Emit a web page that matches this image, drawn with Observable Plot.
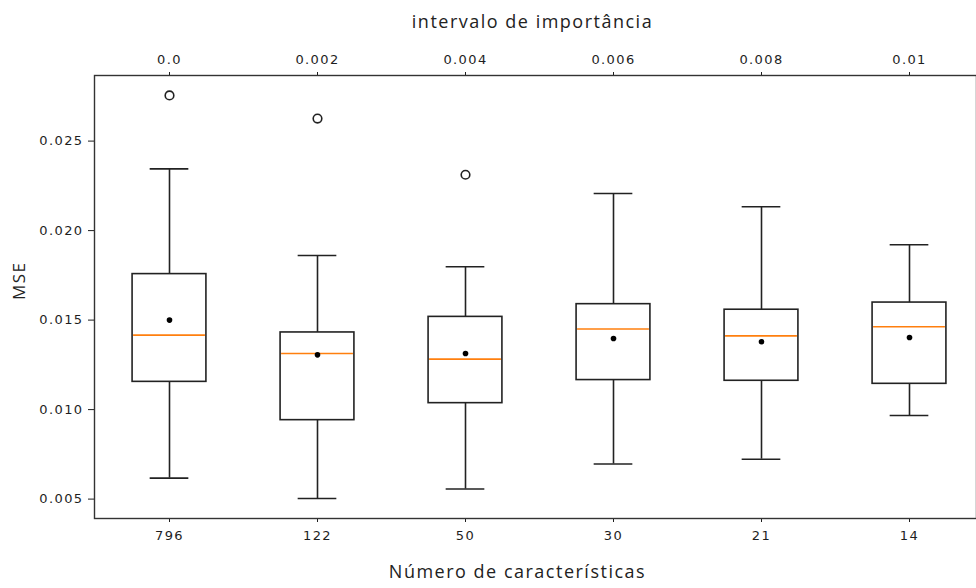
<!DOCTYPE html>
<html>
<head>
<meta charset="utf-8">
<script src="https://cdn.jsdelivr.net/npm/d3@7"></script>
<script src="https://cdn.jsdelivr.net/npm/@observablehq/plot@0.6"></script>
<style>
  html, body { margin: 0; padding: 0; background: #fff; }
  #chart svg { display: block; }
  #chart g[aria-label="x-axis tick label"] text,
  #chart g[aria-label="y-axis tick label"] text { letter-spacing: 1.4px; }
  #chart g[aria-label="text"] text { letter-spacing: 1.5px; }
</style>
</head>
<body>
<div id="chart"></div>
<script>
// Categories (bottom axis: number of features) and top axis (importance threshold)
const categories = ["796", "122", "50", "30", "21", "14"];
const importance = ["0.0", "0.002", "0.004", "0.006", "0.008", "0.01"];

// Box-plot statistics per category (MSE)
const whiskerLow  = [0.00617, 0.00503, 0.00556, 0.00696, 0.00723, 0.00967];
const q1          = [0.01155, 0.00941, 0.01036, 0.01165, 0.01161, 0.01144];
const medians     = [0.01416, 0.01313, 0.01282, 0.01450, 0.01412, 0.01463];
const q3          = [0.01757, 0.01431, 0.01518, 0.01589, 0.01558, 0.01598];
const whiskerHigh = [0.02345, 0.01861, 0.01798, 0.02207, 0.02133, 0.01921];
const means       = [0.01500, 0.01306, 0.01313, 0.01397, 0.01379, 0.01403];

// Outliers
const outlierCats   = ["796", "122", "50"];
const outlierValues = [0.02755, 0.02626, 0.02312];

const yTicks = [0.005, 0.010, 0.015, 0.020, 0.025];

// Axis titles
const xTitle = "Número de características";
const topTitle = "intervalo de importância";
const yTitle = "MSE";

const stats = categories.map((c, i) => ({
  cat: c, low: whiskerLow[i], q1: q1[i], med: medians[i], q3: q3[i], high: whiskerHigh[i], mean: means[i]
}));
const outliers = outlierCats.map((c, i) => ({cat: c, value: outlierValues[i]}));
const topLabel = new Map(categories.map((c, i) => [c, importance[i]]));

const bandW = (984 - 94) / categories.length;
const boxInset = bandW * 0.25;
const capInset = (bandW - 39) / 2;
const ink = "#222";
const titleFont = "Open Sans, Noto Sans, sans-serif";

const chart = Plot.plot({
  width: 976,
  height: 588,
  marginLeft: 94,
  marginRight: 0,
  marginTop: 75,
  marginBottom: 70,
  style: {fontFamily: "DejaVu Sans, sans-serif", fontSize: "13px", color: "#1e1e1e", background: "#fff"},
  x: {type: "band", domain: categories, range: [94, 984], padding: 0},
  y: {domain: [0.003916, 0.028665]},
  marks: [
    Plot.axisY({ticks: yTicks, tickFormat: d3.format(".3f"), tickSize: 6, tickPadding: 5, label: null, fontSize: 13}),
    Plot.axisX({anchor: "bottom", tickSize: 4, tickPadding: 8, label: null, fontSize: 13}),
    Plot.axisX({anchor: "top", tickSize: 4, tickPadding: 8, tickFormat: d => topLabel.get(d), label: null, fontSize: 13}),
    Plot.text([topTitle], {frameAnchor: "top", text: d => d, dy: -53, dx: -3, fontSize: 18,
      fontFamily: titleFont, fill: "#222", lineAnchor: "middle"}),
    Plot.text([xTitle], {frameAnchor: "bottom", text: d => d, dy: 54, dx: -18, fontSize: 18,
      fontFamily: titleFont, fill: "#222", lineAnchor: "middle"}),
    Plot.text([yTitle], {frameAnchor: "left", text: d => d, dx: -75, dy: 3, rotate: -90, fontSize: 17,
      fontFamily: titleFont, fill: "#222", lineAnchor: "middle"}),
    Plot.frame({stroke: "#333", strokeWidth: 1.4}),
    Plot.ruleX(stats, {x: "cat", y1: "low", y2: "q1", stroke: ink, strokeWidth: 1.6}),
    Plot.ruleX(stats, {x: "cat", y1: "q3", y2: "high", stroke: ink, strokeWidth: 1.6}),
    Plot.tickY(stats, {x: "cat", y: "low", stroke: ink, strokeWidth: 1.6, inset: capInset}),
    Plot.tickY(stats, {x: "cat", y: "high", stroke: ink, strokeWidth: 1.6, inset: capInset}),
    Plot.barY(stats, {x: "cat", y1: "q1", y2: "q3", fill: "none", stroke: ink, strokeWidth: 1.6,
      insetLeft: boxInset, insetRight: boxInset}),
    Plot.tickY(stats, {x: "cat", y: "med", stroke: "#ff7f0e", strokeWidth: 1.6, inset: boxInset + 1}),
    Plot.dot(stats, {x: "cat", y: "mean", r: 2.8, fill: "#000", stroke: "none"}),
    Plot.dot(outliers, {x: "cat", y: "value", r: 4.3, fill: "none", stroke: ink, strokeWidth: 1.6})
  ]
});
document.getElementById("chart").appendChild(chart);
</script>
</body>
</html>
